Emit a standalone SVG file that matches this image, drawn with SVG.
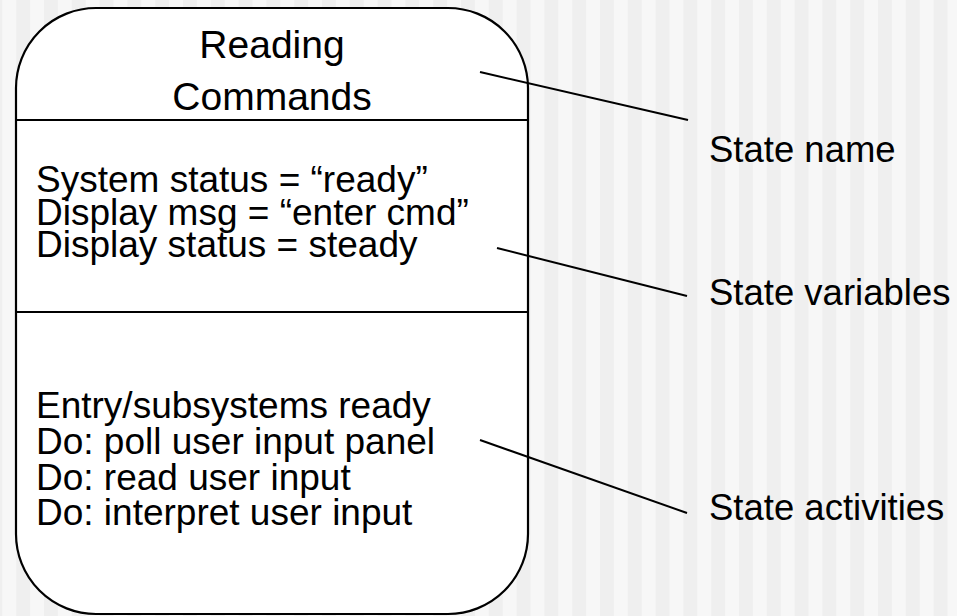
<svg xmlns="http://www.w3.org/2000/svg" width="957" height="616" viewBox="0 0 957 616">
<defs>
<pattern id="stripes" patternUnits="userSpaceOnUse" x="16.2" y="0" width="27.8" height="616">
<rect x="0" y="0" width="13.9" height="616" fill="#efefef"/>
<rect x="13.9" y="0" width="13.9" height="616" fill="#f7f7f7"/>
</pattern>
<style>
text{font-family:"Liberation Sans",Arial,sans-serif;fill:#000}
.t{font-size:39px;text-anchor:middle}
.v{font-size:37px}
.a{font-size:37px}
.l{font-size:36.5px}
.edge{stroke:#000;stroke-width:2;fill:none}
</style>
</defs>
<rect width="957" height="616" fill="url(#stripes)"/>
<g id="state">
<rect x="16" y="8" width="512" height="606" rx="80" ry="80" fill="#fff" stroke="#000" stroke-width="2.2"/>
<line x1="16" y1="120" x2="528" y2="120" stroke="#000" stroke-width="2.2"/>
<line x1="16" y1="312" x2="528" y2="312" stroke="#000" stroke-width="2.2"/>
<text class="t" x="272" y="58">Reading</text>
<text class="t" x="272" y="110">Commands</text>
<text class="v" x="36" y="192">System status = “ready”</text>
<text class="v" x="36" y="225">Display msg = “enter cmd”</text>
<text class="v" x="36" y="257">Display status = steady</text>
<text class="a" x="36" y="418">Entry/subsystems ready</text>
<text class="a" x="36" y="454">Do: poll user input panel</text>
<text class="a" x="36" y="490">Do: read user input</text>
<text class="a" x="36" y="525">Do: interpret user input</text>
</g>
<g id="labels">
<text class="l" x="709" y="162">State name</text>
<text class="l" x="709" y="305">State variables</text>
<text class="l" x="709" y="520">State activities</text>
</g>
<g id="connectors">
<line class="edge" x1="480" y1="72" x2="688" y2="120"/>
<line class="edge" x1="497" y1="248" x2="687" y2="296"/>
<line class="edge" x1="480" y1="440" x2="687" y2="513"/>
</g>
</svg>
